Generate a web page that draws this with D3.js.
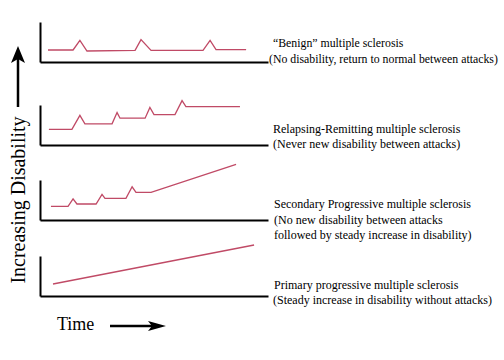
<!DOCTYPE html>
<html>
<head>
<meta charset="utf-8">
<script src="https://cdn.jsdelivr.net/npm/d3@7"></script>
<style>
  body { margin: 0; background: #fff; }
  text { font-family: "Liberation Serif", "Times New Roman", serif; fill: #000; }
</style>
</head>
<body>
<script>
var width = 504;
var height = 360;

// Data: [time, disability] -- time 0..100, disability 0..10 per panel
var benign    = [[3.5,3.0],[14.5,3.0],[17.5,5.4],[20.6,2.75],[41.7,2.9],[44.3,5.6],[48.7,2.9],
                 [71.5,2.9],[74.6,5.4],[77.2,3.1],[90.4,3.1]];
var relapsing = [[3.9,3.9],[14.0,3.9],[17.5,7.4],[19.7,5.3],[31.6,5.3],[33.8,8.1],[35.1,6.7],
                 [46.1,6.7],[48.2,9.4],[50.0,7.6],[59.2,7.6],[62.3,11.1],[64.0,9.6],[87.7,9.6]];
var secondary = [[4.8,3.4],[12.3,3.4],[14.5,5.3],[16.2,4.0],[24.6,4.0],[27.2,6.4],[28.5,5.4],
                 [37.7,5.4],[40.4,8.3],[42.1,6.9],[48.7,6.9],[86.0,13.9]];
var primary   = [[5.7,3.0],[93.9,12.75]];

var series = [benign, relapsing, secondary, primary];

var titles = ["\u201CBenign\u201D multiple sclerosis",
              "Relapsing-Remitting multiple sclerosis",
              "Secondary Progressive multiple sclerosis",
              "Primary progressive multiple sclerosis"];
var notes = [["(No disability, return to normal between attacks)"],
             ["(Never new disability between attacks)"],
             ["(No new disability between attacks", "followed by steady increase in disability)"],
             ["(Steady increase in disability without attacks)"]];

// Layout of the four little panels
var panelBottom = [62, 145, 220, 296];
var panelH = 40;
var labelY = [47, 133, 208, 289];
var labelX = [273, 273, 274, 274];
var noteX = [269, 273, 274, 273];
var lineGap = [16, 14.5, 15.5, 14.5];

var svg = d3.select("body")
  .append("svg")
  .attr("width", width)
  .attr("height", height);

var xScale = d3.scaleLinear().domain([0, 100]).range([40, 268]);

var line = d3.line();

series.forEach(function(data, i) {
  var yScale = d3.scaleLinear().domain([0, 10]).range([panelBottom[i], panelBottom[i] - panelH]);
  line.x(d => xScale(d[0])).y(d => yScale(d[1]));

  var g = svg.append("g").attr("class", "panel");

  // axes, no ticks
  g.append("g")
    .attr("transform", "translate(0," + panelBottom[i] + ")")
    .call(d3.axisBottom(xScale).tickValues([]).tickSizeOuter(0));
  g.append("g")
    .attr("transform", "translate(" + xScale(0) + ",0)")
    .call(d3.axisLeft(yScale).tickValues([]).tickSizeOuter(0));
  g.selectAll(".domain")
    .attr("stroke", "#000")
    .attr("stroke-width", 2);

  g.append("path")
    .datum(data)
    .attr("d", line)
    .attr("fill", "none")
    .attr("stroke", "#c04a66")
    .attr("stroke-width", 1.3)
    .attr("stroke-linejoin", "miter");

  // labels
  var t = g.append("text")
    .attr("y", labelY[i])
    .attr("font-size", i == 0 ? "11.8px" : "12px");
  t.append("tspan").attr("x", labelX[i]).text(titles[i]);
  notes[i].forEach(function(n) {
    t.append("tspan").attr("x", noteX[i]).attr("dy", lineGap[i]).text(n);
  });
});

// Y arrow + label
svg.append("line")
  .attr("x1", 18).attr("y1", 107).attr("x2", 18).attr("y2", 58)
  .attr("stroke", "#000").attr("stroke-width", 2.5);
svg.append("path")
  .attr("d", "M18,46 L25,63 L18,59 L11,63 Z")
  .attr("fill", "#000");

svg.append("text")
  .attr("transform", "translate(25,200) rotate(-90)")
  .attr("text-anchor", "middle")
  .attr("font-size", "20px")
  .text("Increasing Disability");

// X arrow + label
svg.append("text")
  .attr("x", 57).attr("y", 330)
  .attr("font-size", "18px")
  .text("Time");
svg.append("line")
  .attr("x1", 110).attr("y1", 326).attr("x2", 156).attr("y2", 326)
  .attr("stroke", "#000").attr("stroke-width", 2.5);
svg.append("path")
  .attr("d", "M166,326 L148,321 L152,326 L148,331 Z")
  .attr("fill", "#000");
</script>
</body>
</html>
